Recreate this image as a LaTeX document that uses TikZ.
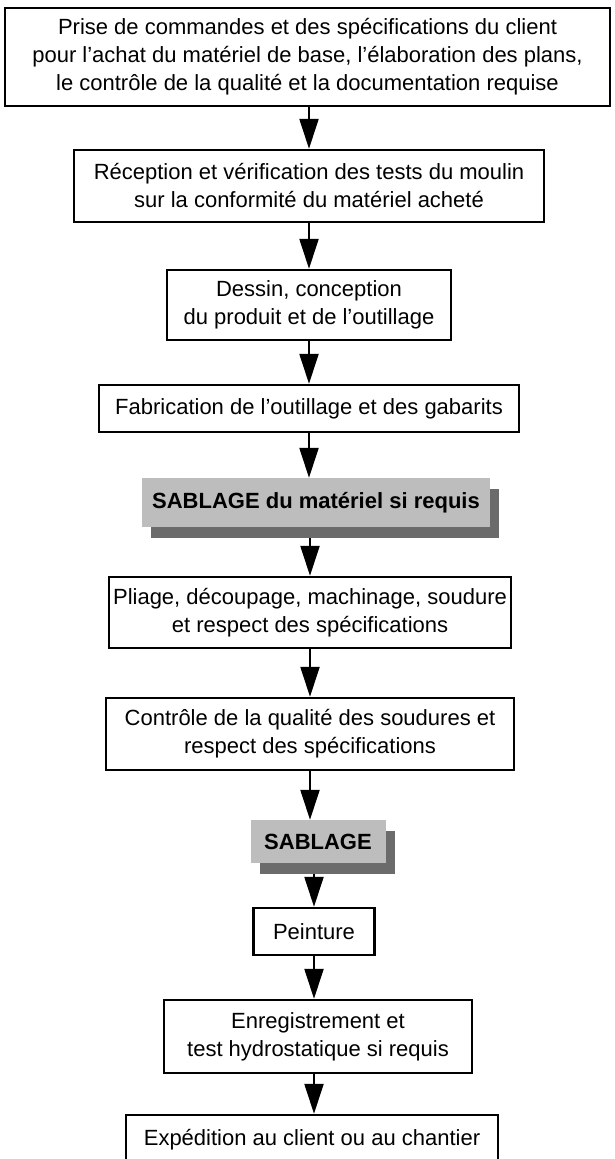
\documentclass[tikz,border=0pt]{standalone}
\usepackage{fontspec}
\setmainfont{Liberation Sans}
\usetikzlibrary{arrows.meta,shadows}
\definecolor{sandfill}{gray}{0.74}
\definecolor{sandshade}{gray}{0.42}
\tikzset{
  box/.style={draw=black, line width=2.4pt, fill=white, align=center, inner sep=0pt,
    font=\fontsize{22}{28}\selectfont},
  sand/.style={fill=sandfill, align=center, inner sep=0pt,
    font=\fontsize{22}{28}\selectfont\bfseries,
    drop shadow={shadow xshift=9pt, shadow yshift=-11pt, fill=sandshade, opacity=1}},
  flow/.style={draw=black, line width=2.2pt, -{Triangle[width=19pt,length=30pt]}},
}
\begin{document}
\begin{tikzpicture}[x=1pt,y=-1pt]
\useasboundingbox (0,0) rectangle (615,1159);
\node[box, minimum width=605pt, minimum height=98pt] (b1) at (307.5,57)
  {Prise de commandes et des spécifications du client\\pour l'achat du matériel de base, l'élaboration des plans,\\le contrôle de la qualité et la documentation requise};
\node[box, minimum width=470pt, minimum height=72pt] (b2) at (309,186)
  {Réception et vérification des tests du moulin\\sur la conformité du matériel acheté};
\node[box, minimum width=284pt, minimum height=70pt] (b3) at (309,305)
  {Dessin, conception\\du produit et de l'outillage};
\node[box, minimum width=420pt, minimum height=47pt] (b4) at (309,408.5)
  {Fabrication de l'outillage et des gabarits};
\node[sand, minimum width=348pt, minimum height=49pt] (s1) at (316,502.5)
  {SABLAGE du matériel si requis};
\node[box, minimum width=402pt, minimum height=71pt] (b5) at (310,612.5)
  {Pliage, découpage, machinage, soudure\\et respect des spécifications};
\node[box, minimum width=408pt, minimum height=72pt] (b6) at (310,734)
  {Contrôle de la qualité des soudures et\\respect des spécifications};
\node[sand, minimum width=135pt, minimum height=43pt] (s2) at (318,841.5)
  {SABLAGE};
\node[box, minimum width=121pt, minimum height=47pt] (b7) at (314,931.5)
  {Peinture};
\node[box, minimum width=308pt, minimum height=73pt] (b8) at (318,1036.5)
  {Enregistrement et\\test hydrostatique si requis};
\node[box, minimum width=372pt, minimum height=50pt] (b9) at (312,1140)
  {Expédition au client ou au chantier};
\draw[flow] (b1.south -| b2.north) -- (b2.north);
\draw[flow] (b2.south) -- (b3.north);
\draw[flow] (b3.south) -- (b4.north);
\draw[flow] (b4.south) -- (b4.south |- s1.north);
\draw[flow] ([yshift=-11pt]s1.south -| b5.north) -- (b5.north);
\draw[flow] (b5.south) -- (b6.north);
\draw[flow] (b6.south) -- (b6.south |- s2.north);
\draw[flow] ([yshift=-11pt]s2.south -| b7.north) -- (b7.north);
\draw[flow] (b7.south) -- (b7.south |- b8.north);
\draw[flow] (b8.south -| b7.south) -- (b7.south |- b9.north);
\end{tikzpicture}
\end{document}
